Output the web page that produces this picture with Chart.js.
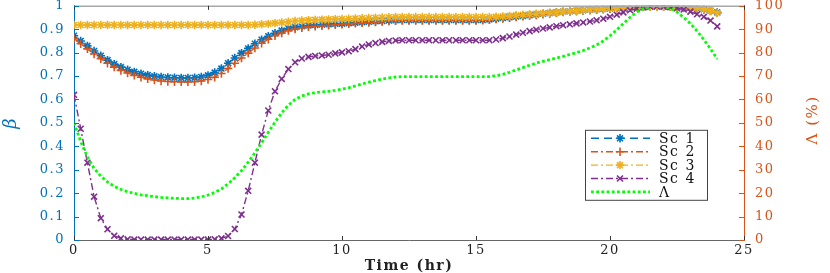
<!DOCTYPE html>
<html><head><meta charset="utf-8">
<script src="https://cdn.jsdelivr.net/npm/chart.js@4/dist/chart.umd.min.js"></script>
<style>html,body{margin:0;padding:0;background:#fff;overflow:hidden}</style>
</head><body>
<canvas id="c" width="830" height="273"></canvas>
<script>
const hours = [0,0.25,0.5,0.75,1,1.25,1.5,1.75,2,2.25,2.5,2.75,3,3.25,3.5,3.75,4,4.25,4.5,4.75,5,5.25,5.5,5.75,6,6.25,6.5,6.75,7,7.25,7.5,7.75,8,8.25,8.5,8.75,9,9.25,9.5,9.75,10,10.25,10.5,10.75,11,11.25,11.5,11.75,12,12.25,12.5,12.75,13,13.25,13.5,13.75,14,14.25,14.5,14.75,15,15.25,15.5,15.75,16,16.25,16.5,16.75,17,17.25,17.5,17.75,18,18.25,18.5,18.75,19,19.25,19.5,19.75,20,20.25,20.5,20.75,21,21.25,21.5,21.75,22,22.25,22.5,22.75,23,23.25,23.5,23.75,24];
const sc1 = [0.872,0.850,0.829,0.807, 0.787,0.768,0.751,0.738, 0.727,0.718,0.710,0.704, 0.699,0.696,0.694,0.693, 0.692,0.692,0.693,0.696, 0.703,0.715,0.732,0.755, 0.777,0.798,0.818,0.838, 0.855,0.870,0.883,0.894, 0.903,0.909,0.913,0.916, 0.918,0.920,0.921,0.923, 0.924,0.926,0.928,0.930, 0.932,0.934,0.935,0.937, 0.938,0.939,0.939,0.939, 0.939,0.939,0.939,0.939, 0.939,0.939,0.939,0.939, 0.939,0.940,0.942,0.945, 0.948,0.951,0.954,0.957, 0.960,0.963,0.966,0.969, 0.972,0.975,0.977,0.979, 0.981,0.983,0.985,0.987, 0.989,0.991,0.993,0.995, 0.996,0.997,0.998,0.998, 0.998,0.997,0.996,0.994, 0.992,0.989,0.985,0.979, 0.972];
const sc2 = [0.860,0.838,0.816,0.794, 0.774,0.755,0.738,0.724, 0.713,0.703,0.695,0.688, 0.683,0.679,0.677,0.676, 0.675,0.675,0.676,0.679, 0.685,0.695,0.711,0.732, 0.755,0.777,0.798,0.820, 0.840,0.857,0.872,0.884, 0.894,0.901,0.906,0.910, 0.913,0.915,0.917,0.919, 0.921,0.923,0.925,0.927, 0.929,0.931,0.933,0.935, 0.936,0.937,0.937,0.937, 0.937,0.937,0.937,0.937, 0.937,0.937,0.937,0.937, 0.937,0.938,0.940,0.943, 0.946,0.949,0.952,0.955, 0.958,0.961,0.964,0.967, 0.970,0.973,0.975,0.977, 0.979,0.981,0.983,0.985, 0.987,0.989,0.991,0.993, 0.995,0.996,0.997,0.997, 0.997,0.996,0.995,0.993, 0.991,0.988,0.984,0.978, 0.970];
const sc3 = [0.918,0.918,0.918,0.918, 0.918,0.918,0.918,0.918, 0.918,0.918,0.918,0.918, 0.918,0.918,0.918,0.918, 0.918,0.918,0.918,0.918, 0.918,0.918,0.918,0.918, 0.918,0.918,0.918,0.919, 0.921,0.923,0.926,0.929, 0.932,0.935,0.937,0.939, 0.940,0.941,0.942,0.943, 0.944,0.945,0.946,0.947, 0.948,0.949,0.950,0.951, 0.952,0.952,0.952,0.952, 0.952,0.952,0.952,0.952, 0.952,0.952,0.952,0.952, 0.952,0.952,0.952,0.953, 0.955,0.957,0.960,0.962, 0.964,0.966,0.968,0.970, 0.972,0.975,0.977,0.979, 0.981,0.984,0.986,0.988, 0.990,0.992,0.994,0.995, 0.996,0.997,0.997,0.997, 0.997,0.997,0.997,0.996, 0.994,0.991,0.987,0.979, 0.969];
const sc4 = [0.620,0.475,0.330,0.185, 0.093,0.046,0.018,0.007, 0.003,0.002,0.002,0.002, 0.002,0.002,0.002,0.002, 0.002,0.002,0.002,0.002, 0.002,0.003,0.007,0.017, 0.047,0.109,0.210,0.330, 0.450,0.553,0.635,0.688, 0.730,0.759,0.775,0.782, 0.786,0.788,0.791,0.797, 0.801,0.806,0.815,0.826, 0.835,0.841,0.846,0.850, 0.852,0.853,0.853,0.853, 0.853,0.853,0.853,0.853, 0.853,0.853,0.853,0.853, 0.853,0.853,0.853,0.856, 0.862,0.869,0.877,0.885, 0.892,0.898,0.903,0.908, 0.913,0.917,0.921,0.925, 0.929,0.933,0.938,0.945, 0.953,0.962,0.972,0.981, 0.988,0.993,0.996,0.997, 0.996,0.994,0.990,0.984, 0.975,0.964,0.953,0.937, 0.912];
const lambdaPct = [50.0,42.0,35.5,30.5, 27.3,24.8,22.9,21.6, 20.6,19.9,19.3,18.9, 18.5,18.2,18.0,17.8, 17.7,17.7,17.9,18.4, 19.2,20.3,21.8,24.0, 26.6,29.6,33.2,37.2, 41.5,46.0,50.3,54.3, 57.6,60.0,61.5,62.4, 62.9,63.2,63.5,63.9, 64.4,65.0,65.8,66.6, 67.4,68.1,68.7,69.2, 69.6,69.8,69.8,69.8, 69.8,69.8,69.8,69.8, 69.8,69.8,69.8,69.8, 69.8,69.8,69.8,70.1, 70.7,71.6,72.6,73.6, 74.6,75.5,76.3,77.0, 77.7,78.4,79.2,80.0, 80.9,82.0,83.3,85.0, 87.2,89.7,92.4,95.1, 97.3,98.8,99.6,99.9, 99.8,99.0,97.3,95.0, 92.4,89.2,85.6,81.6, 77.3];
const seriesNames = ['Sc 1','Sc 2','Sc 3','Sc 4','\u039B'];
const xTitle = 'Time (hr)';
const leftTitle = '\u03B2';
const rightTitle = '\u039B (%)';

const BLUE='#0072BD', ORANGE='#D95319', YELLOW='#EDB120', PURPLE='#7E2F8E', GREEN='#00FF00';
const FONT='DejaVu Serif';
const pts = arr => hours.map((h,i)=>({x:h,y:arr[i]}));
const dashDot=[7,3,2,3];
const MR=4.2, MB=1.6;

function mk(label, arr, color, style, dash, order, axis){
  return {label, data:pts(arr), borderColor:color, backgroundColor:color,
    pointStyle:style, pointRadius: style?MR:0, pointBorderWidth:MB, pointBorderColor:color,
    pointBackgroundColor:color, borderWidth: style?1.4:2.8, borderDash:dash, order, yAxisID:axis, tension:0};
}
const datasets=[
  mk(seriesNames[0], sc1, BLUE, 'star', [8,5], 5, 'y'),
  mk(seriesNames[1], sc2, ORANGE, 'cross', dashDot, 4, 'y'),
  mk(seriesNames[2], sc3, YELLOW, 'star', dashDot, 3, 'y'),
  mk(seriesNames[3], sc4, PURPLE, 'crossRot', dashDot, 2, 'y'),
  mk(seriesNames[4], lambdaPct, GREEN, false, [2.8,2.4], 1, 'y1'),
];

const decor = {
  id:'decor',
  beforeDraw(chart){ chart.ctx.letterSpacing='1.5px'; },
  afterDraw(chart){
    const ctx=chart.ctx, a=chart.chartArea, sx=chart.scales.x, sy=chart.scales.y, sy1=chart.scales.y1;
    ctx.save();
    ctx.letterSpacing='0px';
    ctx.strokeStyle='#a8a8a8'; ctx.lineWidth=1.5;
    ctx.beginPath(); ctx.moveTo(a.left,a.top+0.5); ctx.lineTo(a.right,a.top+0.5); ctx.stroke();
    ctx.strokeStyle='#333'; ctx.lineWidth=1;
    sx.ticks.forEach(t=>{const p=Math.round(sx.getPixelForValue(t.value))+0.5;
      ctx.beginPath(); ctx.moveTo(p,a.bottom); ctx.lineTo(p,a.bottom-4);
      ctx.moveTo(p,a.top); ctx.lineTo(p,a.top+4); ctx.stroke();});
    ctx.strokeStyle=BLUE;
    sy.ticks.forEach(t=>{const p=Math.round(sy.getPixelForValue(t.value))+0.5;
      ctx.beginPath(); ctx.moveTo(a.left,p); ctx.lineTo(a.left+5,p); ctx.stroke();});
    ctx.strokeStyle=ORANGE;
    sy1.ticks.forEach(t=>{const p=Math.round(sy1.getPixelForValue(t.value))+0.5;
      ctx.beginPath(); ctx.moveTo(a.right,p); ctx.lineTo(a.right-5,p); ctx.stroke();});
    ctx.letterSpacing='1.5px';
    ctx.fillStyle=ORANGE; ctx.font='15px "'+FONT+'"';
    ctx.translate(a.right+69,(a.top+a.bottom)/2-3); ctx.rotate(-Math.PI/2);
    ctx.textAlign='center'; ctx.textBaseline='middle';
    ctx.fillText(rightTitle,0,0);
    ctx.restore();

    ctx.save();
    ctx.letterSpacing='1.5px';
    const lx=a.right-159, ly=a.top+124, lw=122, lh=70, rowH=13.4;
    ctx.fillStyle='#fff'; ctx.fillRect(lx,ly,lw,lh);
    ctx.strokeStyle='#444'; ctx.lineWidth=1; ctx.strokeRect(lx+0.5,ly+0.5,lw,lh);
    chart.data.datasets.forEach((ds,i)=>{
      const y=ly+8.5+i*rowH;
      ctx.strokeStyle=ds.borderColor; ctx.lineWidth=ds.borderWidth; ctx.setLineDash(ds.borderDash||[]);
      ctx.beginPath(); ctx.moveTo(lx+6,y); ctx.lineTo(lx+65,y); ctx.stroke();
      ctx.setLineDash([]);
      if(ds.pointStyle){ ctx.fillStyle=ds.borderColor; ctx.lineWidth=MB;
        Chart.helpers.drawPoint(ctx,{pointStyle:ds.pointStyle,rotation:0,radius:MR,borderWidth:MB},lx+35,y); }
      ctx.fillStyle='#111'; ctx.font='14px "'+FONT+'"'; ctx.textAlign='left'; ctx.textBaseline='middle';
      ctx.fillText(ds.label,lx+74,y+1);
    });
    ctx.restore();
  }
};

new Chart(document.getElementById('c'),{
  type:'line',
  data:{datasets},
  options:{
    responsive:false, animation:false, devicePixelRatio:1,
    layout:{padding:{top:5,left:0,right:0,bottom:0}},
    plugins:{legend:{display:false},tooltip:{enabled:false}},
    scales:{
      x:{type:'linear',min:0,max:25,
        ticks:{stepSize:5,color:'#222',padding:3,font:{family:FONT,size:13},maxRotation:0},
        grid:{display:false,drawTicks:false}, border:{display:true,color:'#666',width:1},
        title:{display:true,text:xTitle,color:'#222',font:{family:FONT,size:14,weight:'bold',lineHeight:0.9},padding:{top:0,bottom:0}},
        afterFit:s=>{s.height=33;s.paddingLeft=0;s.paddingRight=0;}},
      y:{type:'linear',position:'left',min:0,max:1,
        ticks:{stepSize:0.1,color:BLUE,padding:9,font:{family:FONT,size:13},callback:v=>Math.round(v*10)/10+''},
        grid:{display:false,drawTicks:false}, border:{display:true,color:BLUE,width:1},
        title:{display:true,text:leftTitle,color:BLUE,font:{family:FONT,size:18,style:'italic',lineHeight:1.2},padding:{top:1,bottom:0}},
        afterFit:s=>{s.width=74;s.paddingTop=0;s.paddingBottom=0;}},
      y1:{type:'linear',position:'right',min:0,max:100,
        ticks:{stepSize:10,color:ORANGE,padding:11,font:{family:FONT,size:13}},
        grid:{display:false,drawTicks:false}, border:{display:true,color:ORANGE,width:1},
        afterFit:s=>{s.width=86;s.paddingTop=0;s.paddingBottom=0;}}
    }
  },
  plugins:[decor]
});
</script>
</body></html>
